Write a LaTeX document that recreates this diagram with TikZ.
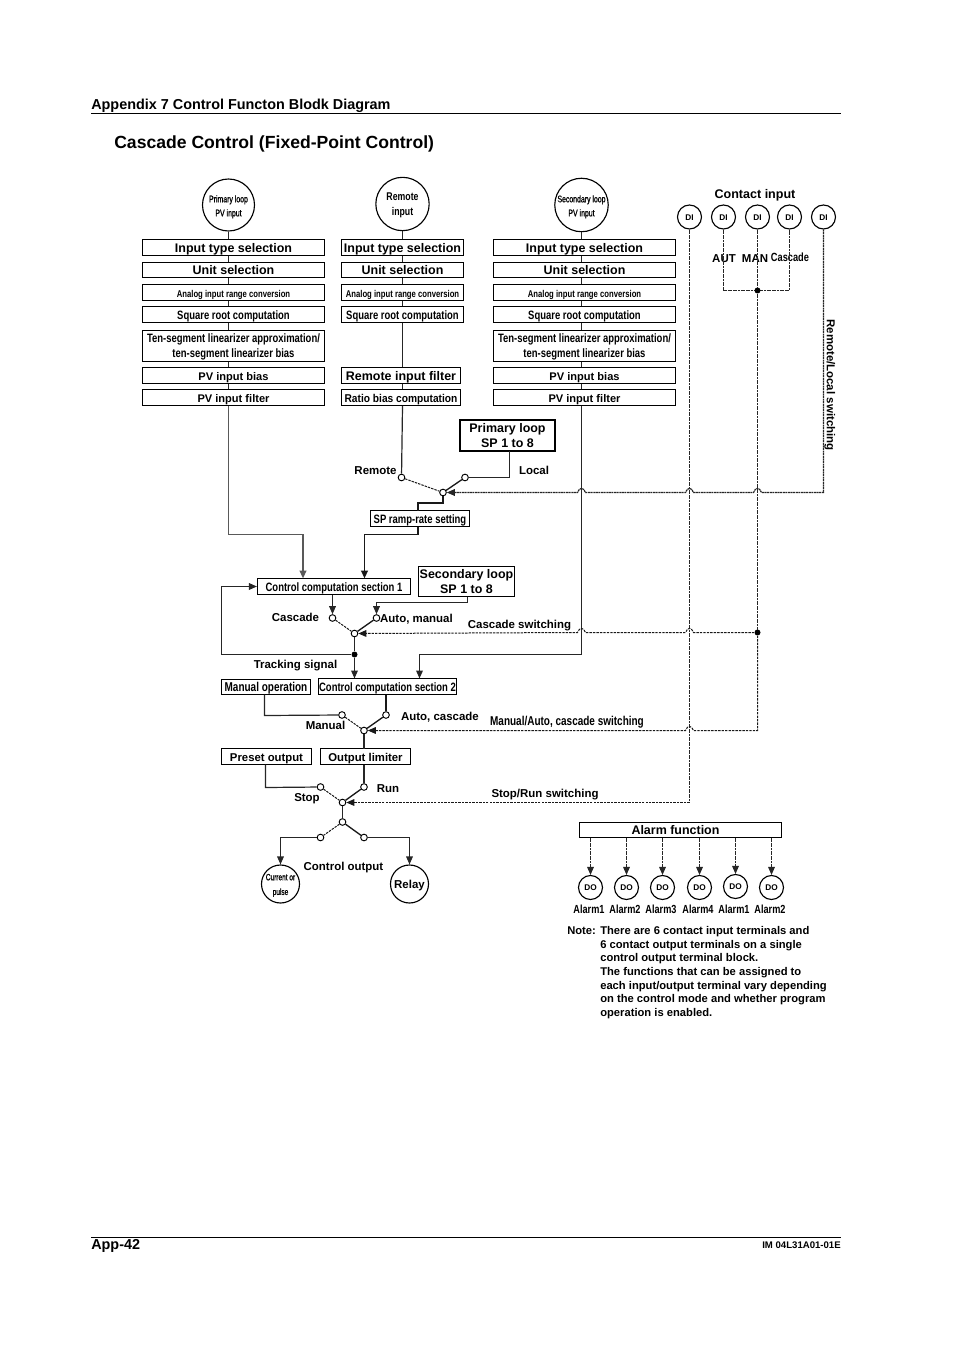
\documentclass[tikz,border=0pt]{standalone}
\usepackage{fontspec}
\setmainfont{Liberation Sans}[BoldFont={Liberation Sans Bold}]
\newfontfamily\condb{Liberation Sans Bold}[FakeStretch=0.78]
\newfontfamily\condm{Liberation Sans Bold}[FakeStretch=0.9]
\newfontfamily\condc{Liberation Sans}[FakeStretch=0.72,FakeBold=1]
\usetikzlibrary{arrows.meta,calc}
\tikzset{
  x=0.75pt,y=-0.75pt,
  conn/.style={line width=0.9pt,draw=black!85},
  heavy/.style={line width=1.4pt,draw=black!90},
  greyline/.style={line width=1.4pt,draw=black!65},
  dotl/.style={line width=0.9pt,draw=black!85,dash pattern=on 1.5pt off 0.45pt},
  dashl/.style={line width=0.75pt,draw=black!90,dash pattern=on 1.8pt off 0.8pt},
  tip/.style={-{Triangle[length=6pt,width=5pt]}},
  tx/.style={text height=6.6pt,text depth=0.4pt},
  two/.style={text height=#1,text depth=0.4pt},
  box/.style={text height=7.2pt,text depth=0.2pt,draw=black,line width=0.85pt,fill=white,inner sep=0pt,align=center,font=\condb\fontsize{9.1}{11}\selectfont},
  boxb/.style={box,font=\bfseries\fontsize{9.35}{11}\selectfont},
  boxp/.style={box,font=\bfseries\fontsize{8.3}{11}\selectfont},
  boxm/.style={box,font=\condm\fontsize{8.5}{11}\selectfont},
  bignode/.style={boxb,line width=1.2pt},
  lab/.style={tx,inner sep=0pt,font=\bfseries\fontsize{8.6}{11}\selectfont},
  labc/.style={tx,inner sep=0pt,font=\condb\fontsize{9.6}{11}\selectfont},
  circ/.style={tx,circle,draw=black,line width=0.85pt,fill=white,inner sep=0pt,align=center},
  port/.style={circ,minimum size=18pt,font=\bfseries\fontsize{6.2}{8}\selectfont,text height=4.6pt,text depth=0pt},
  sw/.style={circle,draw=black,line width=0.7pt,fill=white,inner sep=0pt,minimum size=5pt},
  jn/.style={circle,fill=black,inner sep=0pt,minimum size=4.5pt},
  hl/.style 2 args={insert path={-- (#1+4,#2) .. controls (#1+2,#2-5.5) and (#1-2,#2-5.5) .. (#1-4,#2)}},
}
\newcommand{\bx}[7][box]{\node[#1,minimum width=#5*0.75pt-#3*0.75pt,minimum height=#6*0.75pt-#4*0.75pt] (#2) at ({(#3+#5)/2},{(#4+#6)/2}) {#7};}
\begin{document}
\begin{tikzpicture}
\useasboundingbox (0,0) rectangle (954,1351);
% header and footer
\node[lab,anchor=west,font=\bfseries\fontsize{10.8}{12}\selectfont] (hd) at (91,105) {Appendix 7 Control Functon Blodk Diagram};
\coordinate (hr1) at (91,113.5); \coordinate (hr2) at (841,113.5);
\draw[line width=0.6pt] (hr1) -- (hr2);
\node[lab,anchor=west,font=\bfseries\fontsize{13.2}{15}\selectfont,text height=9.4pt] (ttl) at (114,143) {Cascade Control (Fixed-Point Control)};
\coordinate (fr1) at (91,1237.5); \coordinate (fr2) at (841,1237.5);
\draw[line width=0.6pt] (fr1) -- (fr2);
\node[lab,anchor=west,font=\bfseries\fontsize{10.8}{12}\selectfont,text height=7.8pt] (pg) at (91,1245) {App-42};
\node[lab,anchor=east,font=\bfseries\fontsize{7.2}{8}\selectfont,text height=5.2pt] (doc) at (841,1245.5) {IM 04L31A01-01E};

% input circles
\node[circ,two=17.4pt,minimum size=39pt,font=\condc\fontsize{7.2}{10.5}\selectfont] (cp) at (228.5,205) {Primary loop\\PV input};
\node[circ,two=18.1pt,minimum size=40pt,font=\condb\fontsize{8.4}{11.5}\selectfont] (cr) at (402.5,204) {Remote\\input};
\node[circ,two=17.4pt,minimum size=39pt,font=\condc\fontsize{7.2}{10.5}\selectfont] (cs) at (581.5,205) {Secondary loop\\PV input};

% column 1
\bx[boxb]{a1}{142.5}{239.5}{324.5}{255.5}{Input type selection}
\bx[boxb]{a2}{142.5}{262.5}{324.5}{277.5}{Unit selection}
\bx{a3}{142.5}{284.5}{324.5}{300.5}{\fontsize{7.4}{10}\selectfont Analog input range conversion}
\bx{a4}{142.5}{306.5}{324.5}{322.5}{Square root computation}
\bx[box,two=17.8pt]{a5}{142.5}{330.5}{324.5}{361.5}{Ten-segment linearizer approximation/\\ten-segment linearizer bias}
\bx[boxp]{a6}{142.5}{367.5}{324.5}{383.5}{PV input bias}
\bx[boxp]{a7}{142.5}{389.5}{324.5}{405.5}{PV input filter}
% column 2
\bx[boxb]{b1}{341.5}{239.5}{463.5}{255.5}{Input type selection}
\bx[boxb]{b2}{341.5}{262.5}{463.5}{277.5}{Unit selection}
\bx{b3}{341.5}{284.5}{463.5}{300.5}{\fontsize{7.4}{10}\selectfont Analog input range conversion}
\bx{b4}{341.5}{306.5}{463.5}{322.5}{Square root computation}
\bx[boxb]{b6}{341.5}{367.5}{460.5}{383.5}{Remote input filter}
\bx[boxm]{b7}{341.5}{389.5}{460.5}{405.5}{Ratio bias computation}
% column 3
\bx[boxb]{c1}{493.5}{239.5}{675.5}{255.5}{Input type selection}
\bx[boxb]{c2}{493.5}{262.5}{675.5}{277.5}{Unit selection}
\bx{c3}{493.5}{284.5}{675.5}{300.5}{\fontsize{7.4}{10}\selectfont Analog input range conversion}
\bx{c4}{493.5}{306.5}{675.5}{322.5}{Square root computation}
\bx[box,two=17.8pt]{c5}{493.5}{330.5}{675.5}{361.5}{Ten-segment linearizer approximation/\\ten-segment linearizer bias}
\bx[boxp]{c6}{493.5}{367.5}{675.5}{383.5}{PV input bias}
\bx[boxp]{c7}{493.5}{389.5}{675.5}{405.5}{PV input filter}

\foreach \p/\q in {a1/a2,a2/a3,a3/a4,a4/a5,a5/a6,a6/a7}
  \draw[conn] (cp |- \p.south) -- (cp |- \q.north);
\draw[conn] (cp.south) -- (cp |- a1.north);
\foreach \p/\q in {b1/b2,b2/b3,b3/b4,b4/b6,b6/b7}
  \draw[conn] (cr |- \p.south) -- (cr |- \q.north);
\draw[conn] (cr.south) -- (cr |- b1.north);
\foreach \p/\q in {c1/c2,c2/c3,c3/c4,c4/c5,c5/c6,c6/c7}
  \draw[conn] (cs |- \p.south) -- (cs |- \q.north);
\draw[conn] (cs.south) -- (cs |- c1.north);

% contact inputs
\node[lab,font=\bfseries\fontsize{9.4}{11}\selectfont] (ci) at (755,194) {Contact input};
\foreach \n/\x in {d1/689.5,d2/723.5,d3/757.5,d4/789.5,d5/823.5}
  \node[port] (\n) at (\x,217) {DI};
\node[lab] (aut) at (724,258) {AUT};
\node[lab] (man) at (755,258) {MAN};
\node[labc,font=\condb\fontsize{8.9}{10}\selectfont] (casc) at (790,257) {Cascade};
\node[lab,rotate=-90,font=\bfseries\fontsize{8.6}{10}\selectfont] (rls) at (831,385) {Remote/Local switching};

% setpoint switch
\bx[bignode,two=17.8pt]{psp}{460}{420}{555}{451}{Primary loop\\SP 1 to 8}
\node[sw] (s1r) at (401.5,477.5) {};
\node[sw] (s1l) at (465,477.5) {};
\node[sw] (s1p) at (443,492.5) {};
\node[lab] (lr) at (375.5,470) {Remote};
\node[lab] (ll) at (534,470) {Local};
\draw[conn] (b7.south -| cr) -- (s1r);
\draw[conn] (509.5,451) -- (509.5,477.5) -- (s1l);
\draw[dashl] (s1r) -- (s1p);
\draw[heavy,line width=1pt] (s1l) -- (s1p);
\bx{ramp}{370.5}{510.5}{469.5}{526.5}{SP ramp-rate setting}
\draw[heavy] (s1p) -- (443,503) -- (418,503) -- (418,510.5);

% computation 1
\bx{cc1}{257.5}{578.5}{410.5}{594.5}{Control computation section 1}
\bx[boxb,two=17.8pt]{ssp}{418.5}{566.5}{514.5}{596.5}{Secondary loop\\SP 1 to 8}
\draw[heavy,tip] (418,526.5) -- (418,534.5) -- (364.5,534.5) -- (364.5,578.5);
\draw[greyline,tip] (a7.south -| cp) -- (228.5,534.5) -- (303,534.5) -- (303,578.5);
\node[sw] (s2c) at (332.5,618) {};
\node[sw] (s2a) at (376.5,618) {};
\node[sw] (s2p) at (354.5,633.5) {};
\draw[conn,tip] (332.5,594.5) -- (s2c.north);
\draw[conn,tip] (467.5,596.5) -- (467.5,602.5) -- (376.5,602.5) -- (s2a.north);
\draw[dashl] (s2c) -- (s2p);
\draw[heavy,line width=1pt] (s2a) -- (s2p);
\node[lab] (lc) at (295.5,617) {Cascade};
\node[lab] (la) at (416.5,618) {Auto, manual};
\node[lab] (lcs) at (519.5,624) {Cascade switching};
\node[lab] (lts) at (295.5,664) {Tracking signal};
\node[jn] (j1) at (354.5,654.5) {};

% computation 2
\bx[box,font=\condb\fontsize{9.6}{11}\selectfont]{mop}{221.5}{679.5}{310.5}{694.5}{Manual operation}
\bx{cc2}{318.5}{678.5}{456.5}{694.5}{Control computation section 2}
\draw[conn] (s2p) -- (j1);
\draw[conn,tip] (j1) -- (354.5,678.5);
\draw[conn,tip] (j1) -- (221.5,654.5) -- (221.5,586.5) -- (cc1.west);
\draw[conn,line width=1pt,tip] (c7.south -| cs) -- (581.5,654.5) -- (419.5,654.5) -- (419.5,678.5);

% manual/auto switch
\node[sw] (s3m) at (342,715) {};
\node[sw] (s3a) at (386,715) {};
\node[sw] (s3p) at (364,730.5) {};
\draw[conn] (264.5,694.5) -- (264.5,715.5) -- (s3m);
\draw[heavy] (386,694.5) -- (s3a);
\draw[dashl] (s3m) -- (s3p);
\draw[heavy,line width=1pt] (s3a) -- (s3p);
\node[lab] (lm) at (325.5,725) {Manual};
\node[lab] (lac) at (440,716) {Auto, cascade};
\node[labc] (lmac) at (567,721) {Manual/Auto, cascade switching};

% output stage
\bx[box,font=\bfseries\fontsize{8.5}{11}\selectfont]{pre}{221.5}{748.5}{311.5}{764.5}{Preset output}
\bx[box,font=\bfseries\fontsize{8.5}{11}\selectfont]{olim}{320.5}{748.5}{410.5}{764.5}{Output limiter}
\draw[conn] (s3p) -- (364,748.5);
\node[sw] (s4s) at (320.5,787) {};
\node[sw] (s4r) at (364,787) {};
\node[sw] (s4p) at (342.5,802.5) {};
\draw[conn] (265.5,764.5) -- (265.5,787.5) -- (s4s);
\draw[conn] (364,764.5) -- (s4r);
\draw[dashl] (s4s) -- (s4p);
\draw[heavy,line width=1pt] (s4r) -- (s4p);
\node[lab] (lrun) at (388,788) {Run};
\node[lab] (lstop) at (307,797) {Stop};
\node[lab] (lsr) at (545,793) {Stop/Run switching};
\node[sw] (s5p) at (342.5,822) {};
\node[sw] (s5l) at (320.5,837.5) {};
\node[sw] (s5r) at (364,837.5) {};
\draw[conn] (s4p) -- (s5p);
\draw[dashl] (s5p) -- (s5l);
\draw[heavy,line width=1pt] (s5p) -- (s5r);
\node[circ,two=16.8pt,minimum size=28.5pt,font=\condc\fontsize{6.8}{11}\selectfont] (cur) at (280.5,884) {Current or\\pulse};
\node[circ,minimum size=28.5pt,font=\bfseries\fontsize{8.6}{11}\selectfont] (rel) at (409.5,884) {Relay};
\draw[conn,tip] (s5l) -- (280.5,837.5) -- (cur.north);
\draw[conn,tip] (s5r) -- (409.5,837.5) -- (rel.north);
\node[lab] (lco) at (343.5,866) {Control output};

% contact lines
\draw[dotl] (d2.south) -- (723.5,290.5) -- (789.5,290.5) -- (d4.south);
\node[jn] (j2) at (757.5,290.5) {};
\node[jn] (j3) at (757.5,632.5) {};
\draw[dotl] (d3.south) -- (j2);
\draw[dotl] (j2) -- (j3);
\draw[dotl,line width=1.1pt] (d1.south) -- (689.5,802.5);
\draw[dotl,tip] (d5.south) -- (823.5,492.5) [hl={757.5}{492.5}] [hl={689.5}{492.5}] [hl={581.5}{492.5}] -- (s1p.east);
\draw[dashl,tip] (j3) [hl={689.5}{632.5}] [hl={581.5}{632.5}] -- (s2p.east);
\draw[dashl,tip] (j3) -- (757.5,730.5) [hl={689.5}{730.5}] -- (s3p.east);
\draw[dashl,tip] (689.5,802.5) -- (s4p.east);

% alarms
\bx[boxb]{alm}{579.5}{822.5}{781.5}{837.5}{\hspace*{-7.5pt}Alarm function}
\foreach \n/\x/\y/\t in {e1/590.5/887.5/Alarm1,e2/626.5/887.5/Alarm2,e3/662.5/887.5/Alarm3,e4/699.5/887.5/Alarm4,e5/735.5/886.5/Alarm1,e6/771.5/887.5/Alarm2}{
  \node[port] (\n) at (\x,\y) {DO};
  \node[labc,font=\condb\fontsize{8.8}{10}\selectfont] (t\n) at (\x-1.5,909) {\t};
  \draw[dotl,tip] (\x,837.5) -- (\n.north);
}

% note
\node[anchor=north west,align=left,inner sep=0pt,font=\bfseries\fontsize{8.4}{10.15}\selectfont] (nlab) at (567,926.5) {Note:};
\node[anchor=north west,align=left,inner sep=0pt,font=\bfseries\fontsize{8.4}{10.15}\selectfont] (note) at (600,926.5) {There are 6 contact input terminals and\\6 contact output terminals on a single\\control output terminal block.\\The functions that can be assigned to\\each input/output terminal vary depending\\on the control mode and whether program\\operation is enabled.};
\end{tikzpicture}
\end{document}
